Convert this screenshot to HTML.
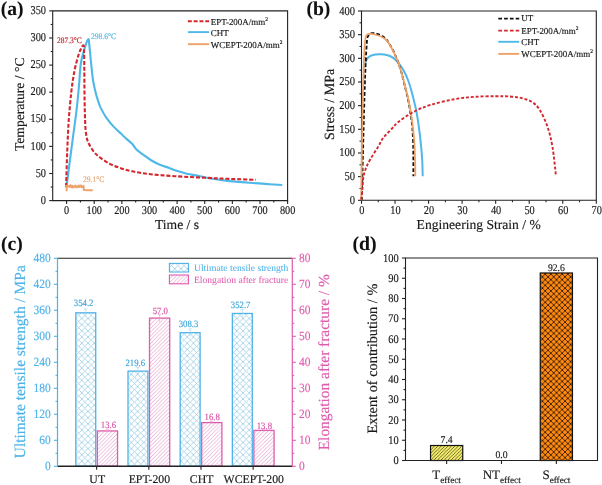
<!DOCTYPE html><html><head><meta charset="utf-8"><style>html,body{margin:0;padding:0;background:#fff;}svg{display:block;will-change:transform;filter:blur(0.3px);}</style></head><body>
<svg width="602" height="485" viewBox="0 0 602 485" font-family='"Liberation Serif", serif' text-rendering="geometricPrecision">
<defs>
<pattern id="pc" patternUnits="userSpaceOnUse" width="6.2" height="6.2" x="1.2" y="2.2"><path d="M0,0 L6.2,6.2 M6.2,0 L0,6.2 M-3.1,3.1 L3.1,-3.1 M3.1,9.3 L9.3,3.1 M-3.1,3.1 L3.1,9.3 M3.1,-3.1 L9.3,3.1" stroke="#9fd0e6" stroke-width="0.85" fill="none"/></pattern>
<pattern id="pm" patternUnits="userSpaceOnUse" width="3.8" height="3.8"><path d="M0,3.8 L3.8,0 M-1,1 L1,-1 M2.8,4.8 L4.8,2.8" stroke="#e6a4ce" stroke-width="0.85" fill="none"/></pattern>
<pattern id="py" patternUnits="userSpaceOnUse" width="3.4" height="3.4"><rect width="3.4" height="3.4" fill="#f6ee6c"/><path d="M0,3.4 L3.4,0 M-1,1 L1,-1 M2.4,4.4 L4.4,2.4" stroke="#2a2a10" stroke-width="0.68" fill="none"/></pattern>
<pattern id="po" patternUnits="userSpaceOnUse" width="5.65" height="5.65"><rect width="5.65" height="5.65" fill="#ff8a12"/><path d="M0,0 L5.65,5.65 M5.65,0 L0,5.65 M-2.825,2.825 L2.825,-2.825 M2.825,8.475 L8.475,2.825 M-2.825,2.825 L2.825,8.475 M2.825,-2.825 L8.475,2.825" stroke="#1e0c00" stroke-width="0.8" fill="none"/></pattern>
</defs>
<text x="0.80" y="14.80" font-size="19.6" fill="#111" text-anchor="start" font-weight="bold" stroke="#111" stroke-width="0.1" >(a)</text>
<path d="M52.7,200.6 L52.7,10.9 L287.6,10.9 L287.6,200.6 Z" fill="none" stroke="#222" stroke-width="1.1"/>
<line x1="49.2" y1="200.60" x2="52.7" y2="200.60" stroke="#222" stroke-width="1.1"/>
<text transform="translate(46.00,203.70) scale(0.86,1)" font-size="12.0" fill="#1a1a1a" stroke="#1a1a1a" stroke-width="0.16" text-anchor="end">0</text>
<line x1="50.7" y1="187.05" x2="52.7" y2="187.05" stroke="#222" stroke-width="1.1"/>
<line x1="49.2" y1="173.50" x2="52.7" y2="173.50" stroke="#222" stroke-width="1.1"/>
<text transform="translate(46.00,176.60) scale(0.86,1)" font-size="12.0" fill="#1a1a1a" stroke="#1a1a1a" stroke-width="0.16" text-anchor="end">50</text>
<line x1="50.7" y1="159.95" x2="52.7" y2="159.95" stroke="#222" stroke-width="1.1"/>
<line x1="49.2" y1="146.40" x2="52.7" y2="146.40" stroke="#222" stroke-width="1.1"/>
<text transform="translate(46.00,149.50) scale(0.86,1)" font-size="12.0" fill="#1a1a1a" stroke="#1a1a1a" stroke-width="0.16" text-anchor="end">100</text>
<line x1="50.7" y1="132.85" x2="52.7" y2="132.85" stroke="#222" stroke-width="1.1"/>
<line x1="49.2" y1="119.30" x2="52.7" y2="119.30" stroke="#222" stroke-width="1.1"/>
<text transform="translate(46.00,122.40) scale(0.86,1)" font-size="12.0" fill="#1a1a1a" stroke="#1a1a1a" stroke-width="0.16" text-anchor="end">150</text>
<line x1="50.7" y1="105.75" x2="52.7" y2="105.75" stroke="#222" stroke-width="1.1"/>
<line x1="49.2" y1="92.20" x2="52.7" y2="92.20" stroke="#222" stroke-width="1.1"/>
<text transform="translate(46.00,95.30) scale(0.86,1)" font-size="12.0" fill="#1a1a1a" stroke="#1a1a1a" stroke-width="0.16" text-anchor="end">200</text>
<line x1="50.7" y1="78.65" x2="52.7" y2="78.65" stroke="#222" stroke-width="1.1"/>
<line x1="49.2" y1="65.10" x2="52.7" y2="65.10" stroke="#222" stroke-width="1.1"/>
<text transform="translate(46.00,68.20) scale(0.86,1)" font-size="12.0" fill="#1a1a1a" stroke="#1a1a1a" stroke-width="0.16" text-anchor="end">250</text>
<line x1="50.7" y1="51.55" x2="52.7" y2="51.55" stroke="#222" stroke-width="1.1"/>
<line x1="49.2" y1="38.00" x2="52.7" y2="38.00" stroke="#222" stroke-width="1.1"/>
<text transform="translate(46.00,41.10) scale(0.86,1)" font-size="12.0" fill="#1a1a1a" stroke="#1a1a1a" stroke-width="0.16" text-anchor="end">300</text>
<line x1="50.7" y1="24.45" x2="52.7" y2="24.45" stroke="#222" stroke-width="1.1"/>
<line x1="49.2" y1="10.90" x2="52.7" y2="10.90" stroke="#222" stroke-width="1.1"/>
<text transform="translate(46.00,14.00) scale(0.86,1)" font-size="12.0" fill="#1a1a1a" stroke="#1a1a1a" stroke-width="0.16" text-anchor="end">350</text>
<line x1="66.60" y1="200.6" x2="66.60" y2="204.1" stroke="#222" stroke-width="1.1"/>
<text transform="translate(66.60,214.00) scale(0.87,1)" font-size="11.8" fill="#1a1a1a" stroke="#1a1a1a" stroke-width="0.16" text-anchor="middle">0</text>
<line x1="80.41" y1="200.6" x2="80.41" y2="202.6" stroke="#222" stroke-width="1.1"/>
<line x1="94.22" y1="200.6" x2="94.22" y2="204.1" stroke="#222" stroke-width="1.1"/>
<text transform="translate(94.22,214.00) scale(0.87,1)" font-size="11.8" fill="#1a1a1a" stroke="#1a1a1a" stroke-width="0.16" text-anchor="middle">100</text>
<line x1="108.04" y1="200.6" x2="108.04" y2="202.6" stroke="#222" stroke-width="1.1"/>
<line x1="121.85" y1="200.6" x2="121.85" y2="204.1" stroke="#222" stroke-width="1.1"/>
<text transform="translate(121.85,214.00) scale(0.87,1)" font-size="11.8" fill="#1a1a1a" stroke="#1a1a1a" stroke-width="0.16" text-anchor="middle">200</text>
<line x1="135.66" y1="200.6" x2="135.66" y2="202.6" stroke="#222" stroke-width="1.1"/>
<line x1="149.48" y1="200.6" x2="149.48" y2="204.1" stroke="#222" stroke-width="1.1"/>
<text transform="translate(149.48,214.00) scale(0.87,1)" font-size="11.8" fill="#1a1a1a" stroke="#1a1a1a" stroke-width="0.16" text-anchor="middle">300</text>
<line x1="163.29" y1="200.6" x2="163.29" y2="202.6" stroke="#222" stroke-width="1.1"/>
<line x1="177.10" y1="200.6" x2="177.10" y2="204.1" stroke="#222" stroke-width="1.1"/>
<text transform="translate(177.10,214.00) scale(0.87,1)" font-size="11.8" fill="#1a1a1a" stroke="#1a1a1a" stroke-width="0.16" text-anchor="middle">400</text>
<line x1="190.91" y1="200.6" x2="190.91" y2="202.6" stroke="#222" stroke-width="1.1"/>
<line x1="204.73" y1="200.6" x2="204.73" y2="204.1" stroke="#222" stroke-width="1.1"/>
<text transform="translate(204.73,214.00) scale(0.87,1)" font-size="11.8" fill="#1a1a1a" stroke="#1a1a1a" stroke-width="0.16" text-anchor="middle">500</text>
<line x1="218.54" y1="200.6" x2="218.54" y2="202.6" stroke="#222" stroke-width="1.1"/>
<line x1="232.35" y1="200.6" x2="232.35" y2="204.1" stroke="#222" stroke-width="1.1"/>
<text transform="translate(232.35,214.00) scale(0.87,1)" font-size="11.8" fill="#1a1a1a" stroke="#1a1a1a" stroke-width="0.16" text-anchor="middle">600</text>
<line x1="246.16" y1="200.6" x2="246.16" y2="202.6" stroke="#222" stroke-width="1.1"/>
<line x1="259.98" y1="200.6" x2="259.98" y2="204.1" stroke="#222" stroke-width="1.1"/>
<text transform="translate(259.98,214.00) scale(0.87,1)" font-size="11.8" fill="#1a1a1a" stroke="#1a1a1a" stroke-width="0.16" text-anchor="middle">700</text>
<line x1="273.79" y1="200.6" x2="273.79" y2="202.6" stroke="#222" stroke-width="1.1"/>
<line x1="287.60" y1="200.6" x2="287.60" y2="204.1" stroke="#222" stroke-width="1.1"/>
<text transform="translate(287.60,214.00) scale(0.87,1)" font-size="11.8" fill="#1a1a1a" stroke="#1a1a1a" stroke-width="0.16" text-anchor="middle">800</text>
<text x="177.00" y="229.40" font-size="13.6" fill="#1a1a1a" text-anchor="middle" font-weight="normal" stroke="#1a1a1a" stroke-width="0.16" >Time / s</text>
<text transform="translate(23.80,104.30) rotate(-90)" font-size="13.6" fill="#1a1a1a" stroke="#1a1a1a" stroke-width="0.16" text-anchor="middle">Temperature / °C</text>
<path d="M66.80,185.00 C66.85,184.50 66.17,189.25 67.10,182.00 C68.03,174.75 70.83,153.40 72.40,141.50 C73.97,129.60 75.43,119.52 76.50,110.60 C77.57,101.68 78.07,95.93 78.80,88.00 C79.53,80.07 79.93,69.60 80.90,63.00 C81.87,56.40 83.38,52.35 84.60,48.40 C85.82,44.45 87.43,40.03 88.20,39.30 C88.97,38.57 88.75,40.38 89.20,44.00 C89.65,47.62 90.27,55.00 90.90,61.00 C91.53,67.00 92.23,74.83 93.00,80.00 C93.77,85.17 94.65,88.50 95.50,92.00 C96.35,95.50 97.25,98.40 98.10,101.00 C98.95,103.60 99.27,104.88 100.60,107.60 C101.93,110.32 103.93,114.13 106.10,117.30 C108.27,120.47 111.12,123.88 113.60,126.60 C116.08,129.32 119.15,131.82 121.00,133.60 C122.85,135.38 122.85,135.60 124.70,137.30 C126.55,139.00 130.10,141.72 132.10,143.80 C134.10,145.88 134.85,148.00 136.70,149.80 C138.55,151.60 140.87,152.90 143.20,154.60 C145.53,156.30 147.90,158.30 150.70,160.00 C153.50,161.70 156.92,163.48 160.00,164.80 C163.08,166.12 166.70,167.00 169.20,167.90 C171.70,168.80 172.20,169.28 175.00,170.20 C177.80,171.12 181.85,172.40 186.00,173.40 C190.15,174.40 195.93,175.40 199.90,176.20 C203.87,177.00 205.48,177.47 209.80,178.20 C214.12,178.93 219.15,179.83 225.80,180.60 C232.45,181.37 242.40,182.20 249.70,182.80 C257.00,183.40 264.18,183.83 269.60,184.20 C275.02,184.57 280.10,184.87 282.20,185.00" fill="none" stroke="#4fb8e8" stroke-width="2.1" stroke-linejoin="round"/>
<path d="M66.00,185.00 C66.03,184.67 66.00,188.50 66.20,183.00 C66.40,177.50 66.78,162.33 67.20,152.00 C67.62,141.67 68.02,131.00 68.70,121.00 C69.38,111.00 70.35,100.30 71.30,92.00 C72.25,83.70 73.18,77.42 74.40,71.20 C75.62,64.98 77.40,58.63 78.60,54.70 C79.80,50.77 80.77,49.12 81.60,47.60 C82.43,46.08 83.18,44.87 83.60,45.60 C84.02,46.33 83.98,47.93 84.10,52.00 C84.22,56.07 84.22,62.00 84.30,70.00 C84.38,78.00 84.43,90.83 84.60,100.00 C84.77,109.17 84.97,118.83 85.30,125.00 C85.63,131.17 86.00,133.87 86.60,137.00 C87.20,140.13 87.67,141.30 88.90,143.80 C90.13,146.30 92.15,149.72 94.00,152.00 C95.85,154.28 97.37,155.53 100.00,157.50 C102.63,159.47 106.62,162.12 109.80,163.80 C112.98,165.48 115.38,166.35 119.10,167.60 C122.82,168.85 126.83,170.20 132.10,171.30 C137.37,172.40 143.55,173.38 150.70,174.20 C157.85,175.02 165.80,175.60 175.00,176.20 C184.20,176.80 196.73,177.35 205.90,177.80 C215.07,178.25 221.70,178.57 230.00,178.90 C238.30,179.23 251.42,179.65 255.70,179.80" fill="none" stroke="#d4262c" stroke-width="2.1" stroke-dasharray="4.0,1.9"/>
<path d="M66.60,191.20 L66.70,186.20 L67.20,185.82 L67.75,186.50 L68.30,186.11 L68.85,186.63 L69.40,186.68 L69.95,185.44 L70.50,185.33 L71.05,187.14 L71.60,185.87 L72.15,185.82 L72.70,187.49 L73.25,186.33 L73.80,187.14 L74.35,186.35 L74.90,186.71 L75.45,185.63 L76.00,186.70 L76.55,187.21 L77.10,186.45 L77.65,186.93 L78.20,186.78 L78.75,185.44 L79.30,186.97 L79.85,186.60 L80.40,185.96 L80.95,185.37 L81.50,187.20 L82.05,186.34 L82.60,186.88 L83.15,187.23 L83.60,186.00 L83.80,190.00 L88.00,190.20 L92.80,190.30" fill="none" stroke="#eea269" stroke-width="2.0" stroke-linejoin="round"/>
<text transform="translate(56.90,43.20) scale(0.9,1)" font-size="8.4" fill="#c2262e" stroke="#c2262e" stroke-width="0.16" text-anchor="start">287.3°C</text>
<text transform="translate(91.00,38.80) scale(0.9,1)" font-size="8.4" fill="#4fb8e8" stroke="#4fb8e8" stroke-width="0.16" text-anchor="start">298.6°C</text>
<text transform="translate(83.00,181.90) scale(0.9,1)" font-size="8.4" fill="#e9a46e" stroke="#e9a46e" stroke-width="0.16" text-anchor="start">29.1°C</text>
<line x1="187.9" y1="21.2" x2="209.1" y2="21.2" stroke="#d4262c" stroke-width="1.9" stroke-dasharray="3.9,1.9"/>
<line x1="187.9" y1="32.1" x2="209.1" y2="32.1" stroke="#4fb8e8" stroke-width="1.9"/>
<line x1="187.9" y1="44.2" x2="209.1" y2="44.2" stroke="#eea269" stroke-width="1.9"/>
<text transform="translate(210.80,24.50) scale(0.985,1)" font-size="9.1" fill="#1a1a1a" stroke="#1a1a1a" stroke-width="0.16" text-anchor="start">EPT-200A/mm<tspan font-size="5.6" dy="-3.6">2</tspan></text>
<text transform="translate(210.80,35.60) scale(0.985,1)" font-size="9.1" fill="#1a1a1a" stroke="#1a1a1a" stroke-width="0.16" text-anchor="start">CHT</text>
<text transform="translate(210.80,47.70) scale(0.985,1)" font-size="9.1" fill="#1a1a1a" stroke="#1a1a1a" stroke-width="0.16" text-anchor="start">WCEPT-200A/mm<tspan font-size="5.6" dy="-3.6">2</tspan></text>
<text x="306.40" y="14.50" font-size="19.6" fill="#111" text-anchor="start" font-weight="bold" stroke="#111" stroke-width="0.1" >(b)</text>
<path d="M361.5,200.3 L361.5,11.0 L596.3,11.0 L596.3,200.3 Z" fill="none" stroke="#222" stroke-width="1.1"/>
<line x1="358.0" y1="200.30" x2="361.5" y2="200.30" stroke="#222" stroke-width="1.1"/>
<text transform="translate(355.10,203.80) scale(0.88,1)" font-size="12.0" fill="#1a1a1a" stroke="#1a1a1a" stroke-width="0.16" text-anchor="end">0</text>
<line x1="359.5" y1="188.47" x2="361.5" y2="188.47" stroke="#222" stroke-width="1.1"/>
<line x1="358.0" y1="176.64" x2="361.5" y2="176.64" stroke="#222" stroke-width="1.1"/>
<text transform="translate(355.10,180.14) scale(0.88,1)" font-size="12.0" fill="#1a1a1a" stroke="#1a1a1a" stroke-width="0.16" text-anchor="end">50</text>
<line x1="359.5" y1="164.81" x2="361.5" y2="164.81" stroke="#222" stroke-width="1.1"/>
<line x1="358.0" y1="152.98" x2="361.5" y2="152.98" stroke="#222" stroke-width="1.1"/>
<text transform="translate(355.10,156.48) scale(0.88,1)" font-size="12.0" fill="#1a1a1a" stroke="#1a1a1a" stroke-width="0.16" text-anchor="end">100</text>
<line x1="359.5" y1="141.14" x2="361.5" y2="141.14" stroke="#222" stroke-width="1.1"/>
<line x1="358.0" y1="129.31" x2="361.5" y2="129.31" stroke="#222" stroke-width="1.1"/>
<text transform="translate(355.10,132.81) scale(0.88,1)" font-size="12.0" fill="#1a1a1a" stroke="#1a1a1a" stroke-width="0.16" text-anchor="end">150</text>
<line x1="359.5" y1="117.48" x2="361.5" y2="117.48" stroke="#222" stroke-width="1.1"/>
<line x1="358.0" y1="105.65" x2="361.5" y2="105.65" stroke="#222" stroke-width="1.1"/>
<text transform="translate(355.10,109.15) scale(0.88,1)" font-size="12.0" fill="#1a1a1a" stroke="#1a1a1a" stroke-width="0.16" text-anchor="end">200</text>
<line x1="359.5" y1="93.82" x2="361.5" y2="93.82" stroke="#222" stroke-width="1.1"/>
<line x1="358.0" y1="81.99" x2="361.5" y2="81.99" stroke="#222" stroke-width="1.1"/>
<text transform="translate(355.10,85.49) scale(0.88,1)" font-size="12.0" fill="#1a1a1a" stroke="#1a1a1a" stroke-width="0.16" text-anchor="end">250</text>
<line x1="359.5" y1="70.16" x2="361.5" y2="70.16" stroke="#222" stroke-width="1.1"/>
<line x1="358.0" y1="58.33" x2="361.5" y2="58.33" stroke="#222" stroke-width="1.1"/>
<text transform="translate(355.10,61.83) scale(0.88,1)" font-size="12.0" fill="#1a1a1a" stroke="#1a1a1a" stroke-width="0.16" text-anchor="end">300</text>
<line x1="359.5" y1="46.49" x2="361.5" y2="46.49" stroke="#222" stroke-width="1.1"/>
<line x1="358.0" y1="34.66" x2="361.5" y2="34.66" stroke="#222" stroke-width="1.1"/>
<text transform="translate(355.10,38.16) scale(0.88,1)" font-size="12.0" fill="#1a1a1a" stroke="#1a1a1a" stroke-width="0.16" text-anchor="end">350</text>
<line x1="359.5" y1="22.83" x2="361.5" y2="22.83" stroke="#222" stroke-width="1.1"/>
<line x1="358.0" y1="11.00" x2="361.5" y2="11.00" stroke="#222" stroke-width="1.1"/>
<text transform="translate(355.10,14.50) scale(0.88,1)" font-size="12.0" fill="#1a1a1a" stroke="#1a1a1a" stroke-width="0.16" text-anchor="end">400</text>
<line x1="361.50" y1="200.3" x2="361.50" y2="203.8" stroke="#222" stroke-width="1.1"/>
<text transform="translate(361.90,214.40) scale(0.86,1)" font-size="12.0" fill="#1a1a1a" stroke="#1a1a1a" stroke-width="0.16" text-anchor="middle">0</text>
<line x1="378.27" y1="200.3" x2="378.27" y2="202.3" stroke="#222" stroke-width="1.1"/>
<line x1="395.04" y1="200.3" x2="395.04" y2="203.8" stroke="#222" stroke-width="1.1"/>
<text transform="translate(395.44,214.40) scale(0.86,1)" font-size="12.0" fill="#1a1a1a" stroke="#1a1a1a" stroke-width="0.16" text-anchor="middle">10</text>
<line x1="411.81" y1="200.3" x2="411.81" y2="202.3" stroke="#222" stroke-width="1.1"/>
<line x1="428.59" y1="200.3" x2="428.59" y2="203.8" stroke="#222" stroke-width="1.1"/>
<text transform="translate(428.99,214.40) scale(0.86,1)" font-size="12.0" fill="#1a1a1a" stroke="#1a1a1a" stroke-width="0.16" text-anchor="middle">20</text>
<line x1="445.36" y1="200.3" x2="445.36" y2="202.3" stroke="#222" stroke-width="1.1"/>
<line x1="462.13" y1="200.3" x2="462.13" y2="203.8" stroke="#222" stroke-width="1.1"/>
<text transform="translate(462.53,214.40) scale(0.86,1)" font-size="12.0" fill="#1a1a1a" stroke="#1a1a1a" stroke-width="0.16" text-anchor="middle">30</text>
<line x1="478.90" y1="200.3" x2="478.90" y2="202.3" stroke="#222" stroke-width="1.1"/>
<line x1="495.67" y1="200.3" x2="495.67" y2="203.8" stroke="#222" stroke-width="1.1"/>
<text transform="translate(496.07,214.40) scale(0.86,1)" font-size="12.0" fill="#1a1a1a" stroke="#1a1a1a" stroke-width="0.16" text-anchor="middle">40</text>
<line x1="512.44" y1="200.3" x2="512.44" y2="202.3" stroke="#222" stroke-width="1.1"/>
<line x1="529.21" y1="200.3" x2="529.21" y2="203.8" stroke="#222" stroke-width="1.1"/>
<text transform="translate(529.61,214.40) scale(0.86,1)" font-size="12.0" fill="#1a1a1a" stroke="#1a1a1a" stroke-width="0.16" text-anchor="middle">50</text>
<line x1="545.99" y1="200.3" x2="545.99" y2="202.3" stroke="#222" stroke-width="1.1"/>
<line x1="562.76" y1="200.3" x2="562.76" y2="203.8" stroke="#222" stroke-width="1.1"/>
<text transform="translate(563.16,214.40) scale(0.86,1)" font-size="12.0" fill="#1a1a1a" stroke="#1a1a1a" stroke-width="0.16" text-anchor="middle">60</text>
<line x1="579.53" y1="200.3" x2="579.53" y2="202.3" stroke="#222" stroke-width="1.1"/>
<line x1="596.30" y1="200.3" x2="596.30" y2="203.8" stroke="#222" stroke-width="1.1"/>
<text transform="translate(596.70,214.40) scale(0.86,1)" font-size="12.0" fill="#1a1a1a" stroke="#1a1a1a" stroke-width="0.16" text-anchor="middle">70</text>
<text x="478.70" y="228.50" font-size="13.6" fill="#1a1a1a" text-anchor="middle" font-weight="normal" stroke="#1a1a1a" stroke-width="0.16" >Engineering Strain / %</text>
<text transform="translate(334.00,104.30) rotate(-90)" font-size="14.1" fill="#1a1a1a" stroke="#1a1a1a" stroke-width="0.16" text-anchor="middle">Stress / MPa</text>
<path d="M364.60,68.00 C364.72,67.17 364.75,64.70 365.30,63.00 C365.85,61.30 366.63,59.13 367.90,57.80 C369.17,56.47 370.83,55.58 372.90,55.00 C374.97,54.42 377.83,54.25 380.30,54.30 C382.77,54.35 385.43,54.62 387.70,55.30 C389.97,55.98 392.05,57.05 393.90,58.40 C395.75,59.75 397.15,61.33 398.80,63.40 C400.45,65.47 402.27,68.03 403.80,70.80 C405.33,73.57 406.77,76.80 408.00,80.00 C409.23,83.20 410.12,86.17 411.20,90.00 C412.28,93.83 413.58,99.17 414.50,103.00 C415.42,106.83 415.95,108.83 416.70,113.00 C417.45,117.17 418.32,122.95 419.00,128.00 C419.68,133.05 420.27,137.97 420.80,143.30 C421.33,148.63 421.88,154.52 422.20,160.00 C422.52,165.48 422.62,173.50 422.70,176.20" fill="none" stroke="#4fb8e8" stroke-width="2.0"/>
<path d="M361.80,200.30 C361.92,195.25 362.22,181.72 362.50,170.00 C362.78,158.28 363.12,144.17 363.50,130.00 C363.88,115.83 364.43,96.32 364.80,85.00 C365.17,73.68 365.38,68.93 365.70,62.10 C366.02,55.27 366.37,48.25 366.70,44.00 C367.03,39.75 366.88,38.40 367.70,36.60 C368.52,34.80 369.92,33.60 371.60,33.20 C373.28,32.80 375.73,33.52 377.80,34.20 C379.87,34.88 382.35,36.10 384.00,37.30 C385.65,38.50 386.25,39.32 387.70,41.40 C389.15,43.48 391.05,46.55 392.70,49.80 C394.35,53.05 396.17,57.20 397.60,60.90 C399.03,64.60 400.13,67.98 401.30,72.00 C402.47,76.02 403.45,80.33 404.60,85.00 C405.75,89.67 407.17,95.00 408.20,100.00 C409.23,105.00 410.10,110.33 410.80,115.00 C411.50,119.67 412.00,123.28 412.40,128.00 C412.80,132.72 413.03,137.97 413.20,143.30 C413.37,148.63 413.37,154.52 413.40,160.00 C413.43,165.48 413.40,173.50 413.40,176.20" fill="none" stroke="#111" stroke-width="1.9" stroke-dasharray="3.7,2.1"/>
<path d="M361.30,200.30 C361.35,195.25 361.45,181.72 361.60,170.00 C361.75,158.28 362.03,140.00 362.20,130.00 C362.37,120.00 362.43,117.50 362.60,110.00 C362.77,102.50 362.98,93.00 363.20,85.00 C363.42,77.00 363.63,68.80 363.90,62.00 C364.17,55.20 364.45,48.48 364.80,44.20 C365.15,39.92 365.48,37.97 366.00,36.30 C366.52,34.63 366.97,34.62 367.90,34.20 C368.83,33.78 370.15,33.67 371.60,33.80 C373.05,33.93 374.73,34.40 376.60,35.00 C378.47,35.60 380.95,36.30 382.80,37.40 C384.65,38.50 386.05,39.48 387.70,41.60 C389.35,43.72 391.05,46.88 392.70,50.10 C394.35,53.32 396.17,57.25 397.60,60.90 C399.03,64.55 400.10,67.98 401.30,72.00 C402.50,76.02 403.60,80.33 404.80,85.00 C406.00,89.67 407.43,95.00 408.50,100.00 C409.57,105.00 410.45,110.33 411.20,115.00 C411.95,119.67 412.47,123.28 413.00,128.00 C413.53,132.72 414.05,137.97 414.40,143.30 C414.75,148.63 414.95,154.52 415.10,160.00 C415.25,165.48 415.27,173.50 415.30,176.20" fill="none" stroke="#eea269" stroke-width="1.8"/>
<path d="M361.20,199.70 C361.40,197.88 362.03,192.58 362.40,188.80 C362.77,185.02 362.83,180.38 363.40,177.00 C363.97,173.62 364.62,171.50 365.80,168.50 C366.98,165.50 368.47,162.58 370.50,159.00 C372.53,155.42 375.90,150.50 378.00,147.00 C380.10,143.50 381.00,140.83 383.10,138.00 C385.20,135.17 388.07,132.67 390.60,130.00 C393.13,127.33 394.50,125.00 398.30,122.00 C402.10,119.00 407.98,114.87 413.40,112.00 C418.82,109.13 423.93,106.93 430.80,104.80 C437.67,102.67 447.23,100.53 454.60,99.20 C461.97,97.87 468.13,97.30 475.00,96.80 C481.87,96.30 489.97,96.25 495.80,96.20 C501.63,96.15 505.70,96.18 510.00,96.50 C514.30,96.82 517.95,97.20 521.60,98.10 C525.25,99.00 528.90,99.97 531.90,101.90 C534.90,103.83 537.02,105.62 539.60,109.70 C542.18,113.78 545.25,120.17 547.40,126.40 C549.55,132.63 551.08,138.93 552.50,147.10 C553.92,155.27 555.33,170.68 555.90,175.40" fill="none" stroke="#d4262c" stroke-width="1.9" stroke-dasharray="3.0,1.9"/>
<line x1="498.3" y1="18.6" x2="519.2" y2="18.6" stroke="#111" stroke-width="1.9" stroke-dasharray="3.7,2.1"/>
<line x1="498.3" y1="30.6" x2="519.2" y2="30.6" stroke="#d4262c" stroke-width="1.9" stroke-dasharray="3.7,2.1"/>
<line x1="498.3" y1="41.8" x2="519.2" y2="41.8" stroke="#4fb8e8" stroke-width="1.9"/>
<line x1="498.3" y1="53.9" x2="519.2" y2="53.9" stroke="#eea269" stroke-width="1.9"/>
<text transform="translate(521.30,21.40) scale(0.985,1)" font-size="9.1" fill="#1a1a1a" stroke="#1a1a1a" stroke-width="0.16" text-anchor="start">UT</text>
<text transform="translate(521.30,33.70) scale(0.985,1)" font-size="9.1" fill="#1a1a1a" stroke="#1a1a1a" stroke-width="0.16" text-anchor="start">EPT-200A/mm<tspan font-size="5.6" dy="-3.6">2</tspan></text>
<text transform="translate(521.30,44.90) scale(0.985,1)" font-size="9.1" fill="#1a1a1a" stroke="#1a1a1a" stroke-width="0.16" text-anchor="start">CHT</text>
<text transform="translate(521.30,56.60) scale(0.985,1)" font-size="9.1" fill="#1a1a1a" stroke="#1a1a1a" stroke-width="0.16" text-anchor="start">WCEPT-200A/mm<tspan font-size="5.6" dy="-3.6">2</tspan></text>
<text x="1.00" y="249.60" font-size="19.6" fill="#111" text-anchor="start" font-weight="bold" stroke="#111" stroke-width="0.1" >(c)</text>
<rect x="75.83" y="312.81" width="19.90" height="153.29" fill="url(#pc)" stroke="#4db2e8" stroke-width="1.3"/>
<path d="M85.78,309.01 L85.78,316.61 M84.03,309.01 L87.53,309.01" stroke="#9fd2ea" stroke-width="0.6" fill="none"/>
<text transform="translate(83.63,306.21) scale(0.91,1)" font-size="9.6" fill="#3aa4dc" stroke="#3aa4dc" stroke-width="0.16" text-anchor="middle">354.2</text>
<rect x="97.33" y="430.94" width="20.20" height="35.16" fill="url(#pm)" stroke="#de5cad" stroke-width="1.3"/>
<path d="M107.43,429.74 L107.43,432.14 M105.63,429.74 L109.23,429.74" stroke="#e99ccb" stroke-width="0.6" fill="none"/>
<text transform="translate(108.43,428.34) scale(0.91,1)" font-size="9.6" fill="#d84fa4" stroke="#d84fa4" stroke-width="0.16" text-anchor="middle">13.6</text>
<line x1="96.63" y1="466.3" x2="96.63" y2="469.8" stroke="#222" stroke-width="1.1"/>
<text x="97.23" y="482.90" font-size="11.8" fill="#1a1a1a" text-anchor="middle" font-weight="normal" stroke="#1a1a1a" stroke-width="0.16" >UT</text>
<rect x="128.01" y="371.14" width="19.90" height="94.96" fill="url(#pc)" stroke="#4db2e8" stroke-width="1.3"/>
<path d="M137.96,367.34 L137.96,374.94 M136.21,367.34 L139.71,367.34" stroke="#9fd2ea" stroke-width="0.6" fill="none"/>
<text transform="translate(135.31,365.84) scale(0.91,1)" font-size="9.6" fill="#3aa4dc" stroke="#3aa4dc" stroke-width="0.16" text-anchor="middle">219.6</text>
<rect x="149.51" y="318.10" width="20.20" height="148.00" fill="url(#pm)" stroke="#de5cad" stroke-width="1.3"/>
<path d="M159.61,314.40 L159.61,321.80 M157.81,314.40 L161.41,314.40" stroke="#e99ccb" stroke-width="0.6" fill="none"/>
<text transform="translate(160.31,313.50) scale(0.91,1)" font-size="9.6" fill="#d84fa4" stroke="#d84fa4" stroke-width="0.16" text-anchor="middle">57.0</text>
<line x1="148.81" y1="466.3" x2="148.81" y2="469.8" stroke="#222" stroke-width="1.1"/>
<text x="149.41" y="482.90" font-size="11.8" fill="#1a1a1a" text-anchor="middle" font-weight="normal" stroke="#1a1a1a" stroke-width="0.16" >EPT-200</text>
<rect x="180.19" y="332.70" width="19.90" height="133.40" fill="url(#pc)" stroke="#4db2e8" stroke-width="1.3"/>
<path d="M190.14,328.90 L190.14,336.50 M188.39,328.90 L191.89,328.90" stroke="#9fd2ea" stroke-width="0.6" fill="none"/>
<text transform="translate(188.49,327.20) scale(0.91,1)" font-size="9.6" fill="#3aa4dc" stroke="#3aa4dc" stroke-width="0.16" text-anchor="middle">308.3</text>
<rect x="201.69" y="422.62" width="20.20" height="43.48" fill="url(#pm)" stroke="#de5cad" stroke-width="1.3"/>
<path d="M211.79,421.42 L211.79,423.82 M209.99,421.42 L213.59,421.42" stroke="#e99ccb" stroke-width="0.6" fill="none"/>
<text transform="translate(212.19,420.42) scale(0.91,1)" font-size="9.6" fill="#d84fa4" stroke="#d84fa4" stroke-width="0.16" text-anchor="middle">16.8</text>
<line x1="200.99" y1="466.3" x2="200.99" y2="469.8" stroke="#222" stroke-width="1.1"/>
<text x="201.59" y="482.90" font-size="11.8" fill="#1a1a1a" text-anchor="middle" font-weight="normal" stroke="#1a1a1a" stroke-width="0.16" >CHT</text>
<rect x="232.37" y="313.46" width="19.90" height="152.64" fill="url(#pc)" stroke="#4db2e8" stroke-width="1.3"/>
<path d="M242.32,309.66 L242.32,317.26 M240.57,309.66 L244.07,309.66" stroke="#9fd2ea" stroke-width="0.6" fill="none"/>
<text transform="translate(240.67,307.76) scale(0.91,1)" font-size="9.6" fill="#3aa4dc" stroke="#3aa4dc" stroke-width="0.16" text-anchor="middle">352.7</text>
<rect x="253.87" y="430.42" width="20.20" height="35.68" fill="url(#pm)" stroke="#de5cad" stroke-width="1.3"/>
<path d="M263.97,429.22 L263.97,431.62 M262.17,429.22 L265.77,429.22" stroke="#e99ccb" stroke-width="0.6" fill="none"/>
<text transform="translate(264.37,428.62) scale(0.91,1)" font-size="9.6" fill="#d84fa4" stroke="#d84fa4" stroke-width="0.16" text-anchor="middle">13.8</text>
<line x1="253.17" y1="466.3" x2="253.17" y2="469.8" stroke="#222" stroke-width="1.1"/>
<text x="253.77" y="482.90" font-size="11.8" fill="#1a1a1a" text-anchor="middle" font-weight="normal" stroke="#1a1a1a" stroke-width="0.16" >WCEPT-200</text>
<line x1="57.5" y1="258.3" x2="292.3" y2="258.3" stroke="#222" stroke-width="1.1"/>
<line x1="57.5" y1="466.3" x2="292.3" y2="466.3" stroke="#222" stroke-width="1.4"/>
<line x1="57.5" y1="258.3" x2="57.5" y2="466.3" stroke="#4db2e8" stroke-width="1.2"/>
<line x1="292.3" y1="258.3" x2="292.3" y2="466.3" stroke="#de5cad" stroke-width="1.2"/>
<line x1="54.0" y1="466.30" x2="57.5" y2="466.30" stroke="#4db2e8" stroke-width="1.1"/>
<text transform="translate(50.80,470.10) scale(0.91,1)" font-size="12.6" fill="#4db2e8" stroke="#4db2e8" stroke-width="0.16" text-anchor="end">0</text>
<line x1="55.5" y1="453.30" x2="57.5" y2="453.30" stroke="#4db2e8" stroke-width="1.1"/>
<line x1="54.0" y1="440.30" x2="57.5" y2="440.30" stroke="#4db2e8" stroke-width="1.1"/>
<text transform="translate(50.80,444.10) scale(0.91,1)" font-size="12.6" fill="#4db2e8" stroke="#4db2e8" stroke-width="0.16" text-anchor="end">60</text>
<line x1="55.5" y1="427.30" x2="57.5" y2="427.30" stroke="#4db2e8" stroke-width="1.1"/>
<line x1="54.0" y1="414.30" x2="57.5" y2="414.30" stroke="#4db2e8" stroke-width="1.1"/>
<text transform="translate(50.80,418.10) scale(0.91,1)" font-size="12.6" fill="#4db2e8" stroke="#4db2e8" stroke-width="0.16" text-anchor="end">120</text>
<line x1="55.5" y1="401.30" x2="57.5" y2="401.30" stroke="#4db2e8" stroke-width="1.1"/>
<line x1="54.0" y1="388.30" x2="57.5" y2="388.30" stroke="#4db2e8" stroke-width="1.1"/>
<text transform="translate(50.80,392.10) scale(0.91,1)" font-size="12.6" fill="#4db2e8" stroke="#4db2e8" stroke-width="0.16" text-anchor="end">180</text>
<line x1="55.5" y1="375.30" x2="57.5" y2="375.30" stroke="#4db2e8" stroke-width="1.1"/>
<line x1="54.0" y1="362.30" x2="57.5" y2="362.30" stroke="#4db2e8" stroke-width="1.1"/>
<text transform="translate(50.80,366.10) scale(0.91,1)" font-size="12.6" fill="#4db2e8" stroke="#4db2e8" stroke-width="0.16" text-anchor="end">240</text>
<line x1="55.5" y1="349.30" x2="57.5" y2="349.30" stroke="#4db2e8" stroke-width="1.1"/>
<line x1="54.0" y1="336.30" x2="57.5" y2="336.30" stroke="#4db2e8" stroke-width="1.1"/>
<text transform="translate(50.80,340.10) scale(0.91,1)" font-size="12.6" fill="#4db2e8" stroke="#4db2e8" stroke-width="0.16" text-anchor="end">300</text>
<line x1="55.5" y1="323.30" x2="57.5" y2="323.30" stroke="#4db2e8" stroke-width="1.1"/>
<line x1="54.0" y1="310.30" x2="57.5" y2="310.30" stroke="#4db2e8" stroke-width="1.1"/>
<text transform="translate(50.80,314.10) scale(0.91,1)" font-size="12.6" fill="#4db2e8" stroke="#4db2e8" stroke-width="0.16" text-anchor="end">360</text>
<line x1="55.5" y1="297.30" x2="57.5" y2="297.30" stroke="#4db2e8" stroke-width="1.1"/>
<line x1="54.0" y1="284.30" x2="57.5" y2="284.30" stroke="#4db2e8" stroke-width="1.1"/>
<text transform="translate(50.80,288.10) scale(0.91,1)" font-size="12.6" fill="#4db2e8" stroke="#4db2e8" stroke-width="0.16" text-anchor="end">420</text>
<line x1="55.5" y1="271.30" x2="57.5" y2="271.30" stroke="#4db2e8" stroke-width="1.1"/>
<line x1="54.0" y1="258.30" x2="57.5" y2="258.30" stroke="#4db2e8" stroke-width="1.1"/>
<text transform="translate(50.80,262.10) scale(0.91,1)" font-size="12.6" fill="#4db2e8" stroke="#4db2e8" stroke-width="0.16" text-anchor="end">480</text>
<line x1="292.3" y1="466.30" x2="295.8" y2="466.30" stroke="#de5cad" stroke-width="1.1"/>
<text transform="translate(298.90,470.10) scale(0.91,1)" font-size="12.6" fill="#de5cad" stroke="#de5cad" stroke-width="0.16" text-anchor="start">0</text>
<line x1="292.3" y1="453.30" x2="294.3" y2="453.30" stroke="#de5cad" stroke-width="1.1"/>
<line x1="292.3" y1="440.30" x2="295.8" y2="440.30" stroke="#de5cad" stroke-width="1.1"/>
<text transform="translate(298.90,444.10) scale(0.91,1)" font-size="12.6" fill="#de5cad" stroke="#de5cad" stroke-width="0.16" text-anchor="start">10</text>
<line x1="292.3" y1="427.30" x2="294.3" y2="427.30" stroke="#de5cad" stroke-width="1.1"/>
<line x1="292.3" y1="414.30" x2="295.8" y2="414.30" stroke="#de5cad" stroke-width="1.1"/>
<text transform="translate(298.90,418.10) scale(0.91,1)" font-size="12.6" fill="#de5cad" stroke="#de5cad" stroke-width="0.16" text-anchor="start">20</text>
<line x1="292.3" y1="401.30" x2="294.3" y2="401.30" stroke="#de5cad" stroke-width="1.1"/>
<line x1="292.3" y1="388.30" x2="295.8" y2="388.30" stroke="#de5cad" stroke-width="1.1"/>
<text transform="translate(298.90,392.10) scale(0.91,1)" font-size="12.6" fill="#de5cad" stroke="#de5cad" stroke-width="0.16" text-anchor="start">30</text>
<line x1="292.3" y1="375.30" x2="294.3" y2="375.30" stroke="#de5cad" stroke-width="1.1"/>
<line x1="292.3" y1="362.30" x2="295.8" y2="362.30" stroke="#de5cad" stroke-width="1.1"/>
<text transform="translate(298.90,366.10) scale(0.91,1)" font-size="12.6" fill="#de5cad" stroke="#de5cad" stroke-width="0.16" text-anchor="start">40</text>
<line x1="292.3" y1="349.30" x2="294.3" y2="349.30" stroke="#de5cad" stroke-width="1.1"/>
<line x1="292.3" y1="336.30" x2="295.8" y2="336.30" stroke="#de5cad" stroke-width="1.1"/>
<text transform="translate(298.90,340.10) scale(0.91,1)" font-size="12.6" fill="#de5cad" stroke="#de5cad" stroke-width="0.16" text-anchor="start">50</text>
<line x1="292.3" y1="323.30" x2="294.3" y2="323.30" stroke="#de5cad" stroke-width="1.1"/>
<line x1="292.3" y1="310.30" x2="295.8" y2="310.30" stroke="#de5cad" stroke-width="1.1"/>
<text transform="translate(298.90,314.10) scale(0.91,1)" font-size="12.6" fill="#de5cad" stroke="#de5cad" stroke-width="0.16" text-anchor="start">60</text>
<line x1="292.3" y1="297.30" x2="294.3" y2="297.30" stroke="#de5cad" stroke-width="1.1"/>
<line x1="292.3" y1="284.30" x2="295.8" y2="284.30" stroke="#de5cad" stroke-width="1.1"/>
<text transform="translate(298.90,288.10) scale(0.91,1)" font-size="12.6" fill="#de5cad" stroke="#de5cad" stroke-width="0.16" text-anchor="start">70</text>
<line x1="292.3" y1="271.30" x2="294.3" y2="271.30" stroke="#de5cad" stroke-width="1.1"/>
<line x1="292.3" y1="258.30" x2="295.8" y2="258.30" stroke="#de5cad" stroke-width="1.1"/>
<text transform="translate(298.90,262.10) scale(0.91,1)" font-size="12.6" fill="#de5cad" stroke="#de5cad" stroke-width="0.16" text-anchor="start">80</text>
<text transform="translate(24.60,361.70) rotate(-90)" font-size="15.45" fill="#4db2e8" stroke="#4db2e8" stroke-width="0.16" text-anchor="middle">Ultimate tensile strength / MPa</text>
<text transform="translate(328.9,450.3) rotate(-90)" font-size="15.4" fill="#de5cad" stroke="#de5cad" stroke-width="0.16" text-anchor="start">Elongation after fracture / %</text>
<rect x="169.4" y="263.4" width="19" height="8.6" fill="url(#pc)" stroke="#4db2e8" stroke-width="1.1"/>
<rect x="169.4" y="275.0" width="19" height="8.8" fill="url(#pm)" stroke="#de5cad" stroke-width="1.1"/>
<text x="194.00" y="271.40" font-size="9.6" fill="#4db2e8" text-anchor="start" font-weight="normal" stroke="#4db2e8" stroke-width="0.16" style="stroke-width:0.05">Ultimate tensile strength</text>
<text x="194.00" y="283.00" font-size="9.6" fill="#de5cad" text-anchor="start" font-weight="normal" stroke="#de5cad" stroke-width="0.16" style="stroke-width:0.05">Elongation after fracture</text>
<text x="352.40" y="249.60" font-size="19.8" fill="#111" text-anchor="start" font-weight="bold" stroke="#111" stroke-width="0.1" >(d)</text>
<rect x="430.54" y="445.51" width="32.2" height="14.99" fill="url(#py)" stroke="#111" stroke-width="1.2"/>
<text transform="translate(446.64,443.12) scale(0.95,1)" font-size="10.2" fill="#1a1a1a" stroke="#1a1a1a" stroke-width="0.16" text-anchor="middle">7.4</text>
<line x1="446.64" y1="460.5" x2="446.64" y2="464.0" stroke="#222" stroke-width="1.1"/>
<text transform="translate(501.50,458.10) scale(0.95,1)" font-size="10.2" fill="#1a1a1a" stroke="#1a1a1a" stroke-width="0.16" text-anchor="middle">0.0</text>
<line x1="501.50" y1="460.5" x2="501.50" y2="464.0" stroke="#222" stroke-width="1.1"/>
<rect x="540.26" y="272.99" width="32.2" height="187.51" fill="url(#po)" stroke="#111" stroke-width="1.2"/>
<text transform="translate(556.36,270.59) scale(0.95,1)" font-size="10.2" fill="#1a1a1a" stroke="#1a1a1a" stroke-width="0.16" text-anchor="middle">92.6</text>
<line x1="556.36" y1="460.5" x2="556.36" y2="464.0" stroke="#222" stroke-width="1.1"/>
<path d="M405.5,460.5 L405.5,258.0 L597.5,258.0 L597.5,460.5 Z" fill="none" stroke="#222" stroke-width="1.1"/>
<line x1="402.0" y1="460.50" x2="405.5" y2="460.50" stroke="#222" stroke-width="1.1"/>
<text transform="translate(398.70,464.10) scale(0.9,1)" font-size="11.6" fill="#1a1a1a" stroke="#1a1a1a" stroke-width="0.16" text-anchor="end">0</text>
<line x1="403.5" y1="450.38" x2="405.5" y2="450.38" stroke="#222" stroke-width="1.1"/>
<line x1="402.0" y1="440.25" x2="405.5" y2="440.25" stroke="#222" stroke-width="1.1"/>
<text transform="translate(398.70,443.85) scale(0.9,1)" font-size="11.6" fill="#1a1a1a" stroke="#1a1a1a" stroke-width="0.16" text-anchor="end">10</text>
<line x1="403.5" y1="430.12" x2="405.5" y2="430.12" stroke="#222" stroke-width="1.1"/>
<line x1="402.0" y1="420.00" x2="405.5" y2="420.00" stroke="#222" stroke-width="1.1"/>
<text transform="translate(398.70,423.60) scale(0.9,1)" font-size="11.6" fill="#1a1a1a" stroke="#1a1a1a" stroke-width="0.16" text-anchor="end">20</text>
<line x1="403.5" y1="409.88" x2="405.5" y2="409.88" stroke="#222" stroke-width="1.1"/>
<line x1="402.0" y1="399.75" x2="405.5" y2="399.75" stroke="#222" stroke-width="1.1"/>
<text transform="translate(398.70,403.35) scale(0.9,1)" font-size="11.6" fill="#1a1a1a" stroke="#1a1a1a" stroke-width="0.16" text-anchor="end">30</text>
<line x1="403.5" y1="389.62" x2="405.5" y2="389.62" stroke="#222" stroke-width="1.1"/>
<line x1="402.0" y1="379.50" x2="405.5" y2="379.50" stroke="#222" stroke-width="1.1"/>
<text transform="translate(398.70,383.10) scale(0.9,1)" font-size="11.6" fill="#1a1a1a" stroke="#1a1a1a" stroke-width="0.16" text-anchor="end">40</text>
<line x1="403.5" y1="369.38" x2="405.5" y2="369.38" stroke="#222" stroke-width="1.1"/>
<line x1="402.0" y1="359.25" x2="405.5" y2="359.25" stroke="#222" stroke-width="1.1"/>
<text transform="translate(398.70,362.85) scale(0.9,1)" font-size="11.6" fill="#1a1a1a" stroke="#1a1a1a" stroke-width="0.16" text-anchor="end">50</text>
<line x1="403.5" y1="349.12" x2="405.5" y2="349.12" stroke="#222" stroke-width="1.1"/>
<line x1="402.0" y1="339.00" x2="405.5" y2="339.00" stroke="#222" stroke-width="1.1"/>
<text transform="translate(398.70,342.60) scale(0.9,1)" font-size="11.6" fill="#1a1a1a" stroke="#1a1a1a" stroke-width="0.16" text-anchor="end">60</text>
<line x1="403.5" y1="328.88" x2="405.5" y2="328.88" stroke="#222" stroke-width="1.1"/>
<line x1="402.0" y1="318.75" x2="405.5" y2="318.75" stroke="#222" stroke-width="1.1"/>
<text transform="translate(398.70,322.35) scale(0.9,1)" font-size="11.6" fill="#1a1a1a" stroke="#1a1a1a" stroke-width="0.16" text-anchor="end">70</text>
<line x1="403.5" y1="308.62" x2="405.5" y2="308.62" stroke="#222" stroke-width="1.1"/>
<line x1="402.0" y1="298.50" x2="405.5" y2="298.50" stroke="#222" stroke-width="1.1"/>
<text transform="translate(398.70,302.10) scale(0.9,1)" font-size="11.6" fill="#1a1a1a" stroke="#1a1a1a" stroke-width="0.16" text-anchor="end">80</text>
<line x1="403.5" y1="288.38" x2="405.5" y2="288.38" stroke="#222" stroke-width="1.1"/>
<line x1="402.0" y1="278.25" x2="405.5" y2="278.25" stroke="#222" stroke-width="1.1"/>
<text transform="translate(398.70,281.85) scale(0.9,1)" font-size="11.6" fill="#1a1a1a" stroke="#1a1a1a" stroke-width="0.16" text-anchor="end">90</text>
<line x1="403.5" y1="268.12" x2="405.5" y2="268.12" stroke="#222" stroke-width="1.1"/>
<line x1="402.0" y1="258.00" x2="405.5" y2="258.00" stroke="#222" stroke-width="1.1"/>
<text transform="translate(398.70,261.60) scale(0.9,1)" font-size="11.6" fill="#1a1a1a" stroke="#1a1a1a" stroke-width="0.16" text-anchor="end">100</text>
<text transform="translate(376.80,358.50) rotate(-90)" font-size="14.35" fill="#1a1a1a" stroke="#1a1a1a" stroke-width="0.16" text-anchor="middle">Extent of contribution / %</text>
<text x="446.60" y="478.80" font-size="13.0" fill="#1a1a1a" text-anchor="middle" font-weight="normal" stroke="#1a1a1a" stroke-width="0.16" >T<tspan font-size="9.2" dy="3.9">effect</tspan></text>
<text x="501.70" y="478.80" font-size="13.0" fill="#1a1a1a" text-anchor="middle" font-weight="normal" stroke="#1a1a1a" stroke-width="0.16" >NT<tspan font-size="9.2" dy="3.9">effect</tspan></text>
<text x="556.40" y="478.80" font-size="13.0" fill="#1a1a1a" text-anchor="middle" font-weight="normal" stroke="#1a1a1a" stroke-width="0.16" >S<tspan font-size="9.2" dy="3.9">effect</tspan></text>
</svg></body></html>
